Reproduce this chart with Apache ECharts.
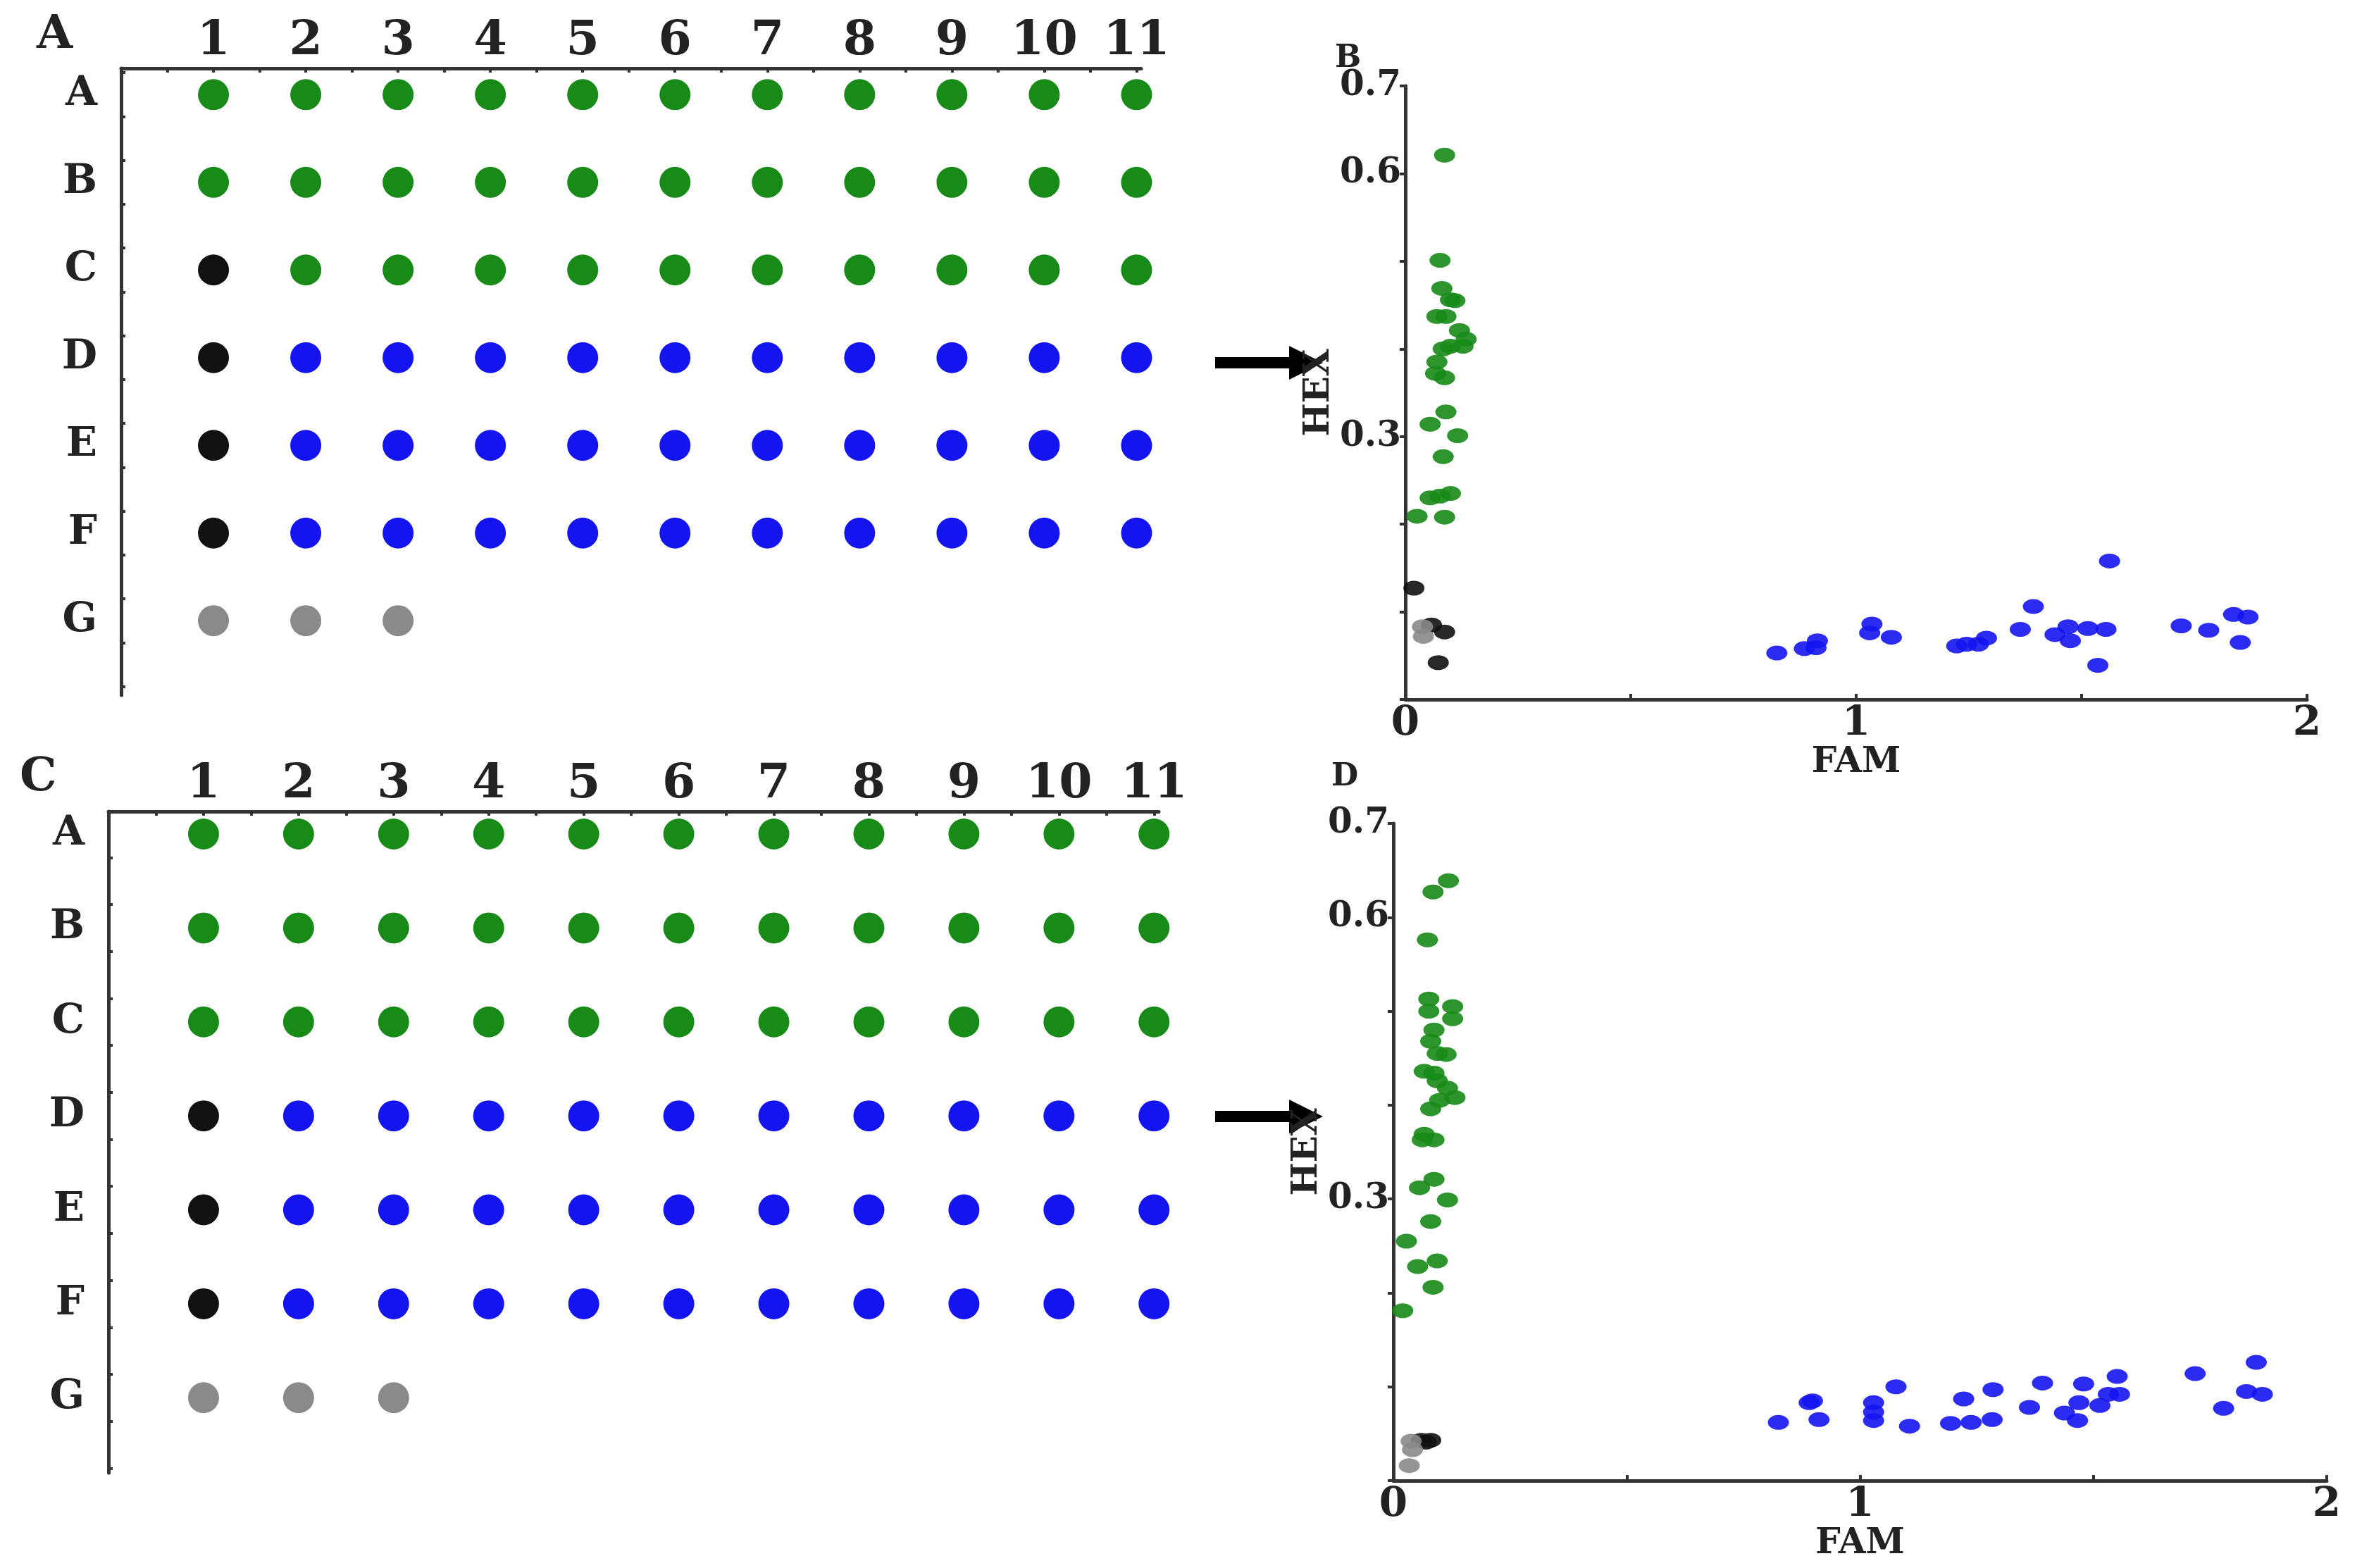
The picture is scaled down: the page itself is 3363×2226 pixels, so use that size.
<!DOCTYPE html>
<html>
<head>
<meta charset="utf-8">
<script src="https://cdn.jsdelivr.net/npm/echarts@6/dist/echarts.min.js"></script>
<style>
html,body{margin:0;padding:0;background:#fff;}
#main{width:3363px;height:2226px;}
</style>
</head>
<body>
<div id="main"></div>
<script>
// plate layout: g = green (HEX), b = blue (FAM), k = black (NTC), s = grey, . = empty
let rowNames = ['A', 'B', 'C', 'D', 'E', 'F', 'G'];
let colNames = ['1', '2', '3', '4', '5', '6', '7', '8', '9', '10', '11'];
let plateA = ['ggggggggggg', 'ggggggggggg', 'kgggggggggg', 'kbbbbbbbbbb', 'kbbbbbbbbbb', 'kbbbbbbbbbb', 'sss........'];
let plateC = ['ggggggggggg', 'ggggggggggg', 'ggggggggggg', 'kbbbbbbbbbb', 'kbbbbbbbbbb', 'kbbbbbbbbbb', 'sss........'];

// scatter B: [FAM, HEX]
let greenB = [[.087,.621],[.077,.501],[.081,.469],[.10,.456],[.11,.455],[.07,.437],[.09,.437],[.12,.421],[.135,.411],[.128,.403],[.10,.403],[.084,.400],[.07,.385],[.067,.372],[.087,.367],[.09,.328],[.055,.314],[.116,.301],[.084,.277],[.10,.235],[.055,.230],[.077,.232],[.026,.209],[.087,.208]];
let blackB = [[.019,.127],[.058,.085],[.087,.077],[.073,.042]];
let greyB = [[.038,.083],[.04,.072]];
let blueB = [[.824,.053],[.885,.058],[.911,.059],[.914,.067],[1.035,.086],[1.03,.076],[1.078,.071],[1.223,.061],[1.245,.063],[1.271,.063],[1.289,.070],[1.364,.080],[1.393,.106],[1.441,.074],[1.47,.083],[1.475,.067],[1.514,.081],[1.536,.039],[1.554,.080],[1.562,.158],[1.721,.084],[1.782,.079],[1.837,.097],[1.869,.094],[1.852,.065]];

// scatter D
let greenD = [[.118,.639],[.085,.627],[.073,.576],[.076,.513],[.076,.5],[.127,.505],[.127,.492],[.087,.48],[.08,.468],[.094,.455],[.113,.454],[.066,.436],[.087,.434],[.094,.426],[.116,.418],[.132,.408],[.099,.405],[.08,.396],[.066,.369],[.062,.363],[.087,.363],[.087,.321],[.056,.312],[.116,.299],[.08,.276],[.028,.255],[.094,.234],[.052,.228],[.085,.206],[.02,.181]];
let blackD = [[.06,.043],[.08,.043],[.07,.041]];
let greyD = [[.038,.042],[.041,.033],[.034,.016]];
let blueD = [[.825,.062],[.891,.083],[.898,.085],[.912,.065],[1.029,.083],[1.029,.073],[1.029,.064],[1.077,.1],[1.106,.058],[1.194,.061],[1.238,.062],[1.222,.087],[1.285,.097],[1.283,.065],[1.363,.078],[1.391,.104],[1.438,.072],[1.466,.064],[1.469,.083],[1.479,.103],[1.514,.08],[1.532,.092],[1.556,.092],[1.551,.111],[1.718,.114],[1.779,.077],[1.828,.095],[1.849,.126],[1.862,.092]];

let colors = {g: '#178a17', b: '#1414f0', k: '#111111', s: '#8a8a8a'};
let font = 'DejaVu Serif';
let axisCol = '#333';

function plateData(plate, code){
    let out = [];
    plate.forEach((row, r)=>{
        row.split('').forEach((c, i)=>{
            if(c === code) out.push([i + 1, r]);
        });
    });
    return out;
}

let halfTicks = [];
for(let i = 0; i <= 22; i++) halfTicks.push(i / 2);
let rowTicks = [];
for(let i = 0; i <= 14; i++) rowTicks.push(i / 2 - 0.25);

function plateAxes(idx){
    let x = {
        gridIndex: idx, type: 'value', min: 0, max: 11.05, position: 'top',
        axisLine: {onZero: false, lineStyle: {color: axisCol, width: 5}},
        axisTick: {inside: true, length: 6, customValues: halfTicks, lineStyle: {color: axisCol, width: 4}},
        axisLabel: {customValues: [1,2,3,4,5,6,7,8,9,10,11], formatter: v => colNames[v - 1], fontFamily: font, fontWeight: 'bold', fontSize: 68, color: '#222', margin: 4},
        splitLine: {show: false}
    };
    let y = {
        gridIndex: idx, type: 'value', inverse: true,
        min: idx === 0 ? -0.3 : -0.24, max: idx === 0 ? 6.85 : 6.8,
        axisLine: {onZero: false, lineStyle: {color: axisCol, width: 5}},
        axisTick: {inside: true, length: 6, customValues: rowTicks, lineStyle: {color: axisCol, width: 4}},
        axisLabel: {customValues: [0,1,2,3,4,5,6], formatter: v => rowNames[v], fontFamily: font, fontWeight: 'bold', fontSize: 58, color: '#222', margin: 34},
        splitLine: {show: false}
    };
    return [x, y];
}

function scatterAxes(idx){
    let x = {
        gridIndex: idx, type: 'value', min: 0, max: 2, interval: 0.5,
        name: 'FAM', nameLocation: 'middle', nameGap: 34,
        nameTextStyle: {fontFamily: font, fontWeight: 'bold', fontSize: 50, color: '#222'},
        axisLine: {lineStyle: {color: axisCol, width: 5}},
        axisTick: {inside: true, length: 8, lineStyle: {color: axisCol, width: 4}},
        axisLabel: {formatter: v => (v % 1 === 0 ? String(v) : ''), fontFamily: font, fontWeight: 'bold', fontSize: 58, color: '#222', margin: 6},
        splitLine: {show: false}
    };
    let y = {
        gridIndex: idx, type: 'value', min: 0, max: 0.7, interval: 0.1,
        name: 'HEX', nameLocation: 'middle', nameGap: 22, nameRotate: 90,
        nameTextStyle: {fontFamily: font, fontWeight: 'bold', fontSize: 50, color: '#222'},
        axisLine: {lineStyle: {color: axisCol, width: 5}},
        axisTick: {inside: false, length: 8, lineStyle: {color: axisCol, width: 4}},
        axisLabel: {formatter: v => {let s = v.toFixed(1); return (s === '0.3' || s === '0.6' || s === '0.7') ? s : '';}, fontFamily: font, fontWeight: 'bold', fontSize: 50, color: '#222', margin: 6},
        splitLine: {show: false}
    };
    return [x, y];
}

let pa = plateAxes(0), pc = plateAxes(1), sb = scatterAxes(2), sd = scatterAxes(3);

let series = [];
[[plateA, 0], [plateC, 1]].forEach(([plate, gi])=>{
    ['g', 'b', 'k', 's'].forEach(code=>{
        series.push({type: 'scatter', xAxisIndex: gi, yAxisIndex: gi, symbolSize: 44,
            itemStyle: {color: colors[code], opacity: 1}, data: plateData(plate, code), silent: true});
    });
});
[[2, greenB, blueB, blackB, greyB], [3, greenD, blueD, blackD, greyD]].forEach(([gi, g, b, k, s])=>{
    [[g, 'g'], [b, 'b'], [k, 'k'], [s, 's']].forEach(([d, code])=>{
        series.push({type: 'scatter', xAxisIndex: gi, yAxisIndex: gi, symbolSize: [30, 21],
            itemStyle: {color: colors[code], opacity: 0.9}, data: d, silent: true});
    });
});

let letterStyle = {fontFamily: font, fontWeight: 'bold', fontSize: 66, fill: '#222'};
let smallLetter = {fontFamily: font, fontWeight: 'bold', fontSize: 44, fill: '#222'};
function arrow(y){
    return [
        {type: 'rect', shape: {x: 1725, y: y - 8, width: 115, height: 16}, style: {fill: '#000'}},
        {type: 'polygon', shape: {points: [[1830, y - 24], [1878, y], [1830, y + 24]]}, style: {fill: '#000'}}
    ];
}

let chart = echarts.init(document.getElementById('main'));
chart.setOption({
    backgroundColor: '#fff',
    animation: false,
    grid: [
        {left: 172, top: 97, width: 1448, height: 890},
        {left: 154, top: 1152, width: 1491, height: 939},
        {left: 1995, top: 122, width: 1280, height: 871},
        {left: 1978, top: 1169, width: 1325, height: 933}
    ],
    xAxis: [pa[0], pc[0], sb[0], sd[0]],
    yAxis: [pa[1], pc[1], sb[1], sd[1]],
    series: series,
    graphic: [
        {type: 'text', left: 52, top: 18, style: Object.assign({text: 'A'}, letterStyle)},
        {type: 'text', left: 28, top: 1072, style: Object.assign({text: 'C'}, letterStyle)},
        {type: 'text', left: 1895, top: 62, style: Object.assign({text: 'B'}, smallLetter)},
        {type: 'text', left: 1890, top: 1082, style: Object.assign({text: 'D'}, smallLetter)}
    ].concat(arrow(515), arrow(1585))
});
</script>
</body>
</html>
